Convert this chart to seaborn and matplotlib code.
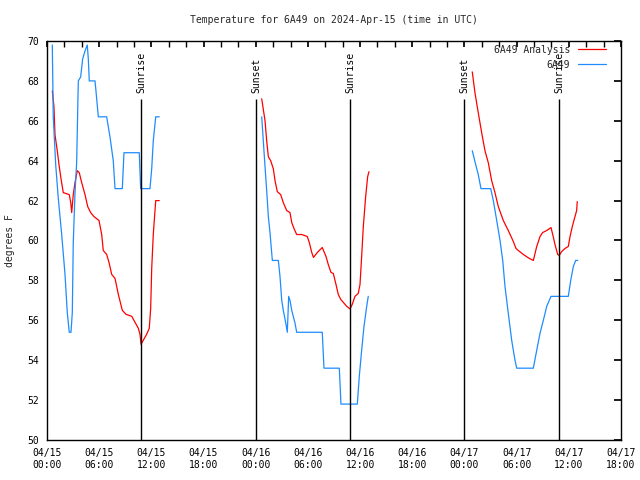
import pandas as pd
import matplotlib
matplotlib.use('Agg')
import matplotlib.pyplot as plt
import matplotlib.dates as mdates
from matplotlib.lines import Line2D
import seaborn as sns

# hours after 2024-04-15 00:00 UTC, temperature in degrees F
anl_d1_h = [0.61, 0.80, 0.92, 1.18, 1.38, 1.61, 1.87, 2.56, 2.73, 2.84, 3.02, 3.22, 3.48, 3.71,
            3.99, 4.37, 4.68, 5.02, 5.40, 5.98, 6.29, 6.47, 6.86, 7.13, 7.44, 7.82, 8.20, 8.66,
            9.08, 9.74, 10.12, 10.50, 10.69, 10.81, 11.07, 11.46, 11.76, 11.92, 12.04, 12.22,
            12.50, 12.91]
anl_d1_t = [67.5, 66.7, 65.3, 64.5, 63.8, 63.1, 62.4, 62.3, 61.9, 61.4, 62.3, 62.9, 63.5, 63.4,
            62.9, 62.3, 61.7, 61.4, 61.2, 61.0, 60.3, 59.5, 59.3, 58.9, 58.3, 58.1, 57.3, 56.5,
            56.3, 56.2, 55.9, 55.6, 55.3, 54.8, 55.0, 55.3, 55.6, 56.6, 58.6, 60.3,
            62.0, 62.0]

anl_d2_h = [24.69, 25.07, 25.26, 25.45, 25.72, 26.02, 26.22, 26.48, 26.87, 27.17, 27.56, 27.94,
            28.14, 28.40, 28.71, 29.29, 29.93, 30.16, 30.44, 30.64, 31.08, 31.65, 32.08, 32.34,
            32.65, 32.92, 33.20, 33.49, 33.77, 34.07, 34.46, 34.84, 35.10, 35.41, 35.79, 35.99,
            36.18, 36.37, 36.64, 36.87, 37.02]
anl_d2_t = [67.1, 66.0, 65.0, 64.2, 64.0, 63.6, 63.0, 62.45, 62.3, 61.9, 61.5, 61.4,
            60.9, 60.6, 60.3, 60.3, 60.2, 59.9, 59.4, 59.15, 59.4, 59.65, 59.2, 58.8,
            58.4, 58.35, 57.85, 57.3, 57.05, 56.9, 56.7, 56.57, 56.8, 57.2, 57.35, 57.8,
            59.2, 60.7, 62.2, 63.2, 63.45]

anl_d3_h = [48.90, 49.21, 49.59, 49.98, 50.36, 50.74, 51.13, 51.51, 51.89, 52.47, 53.04, 53.62,
            53.93, 54.19, 54.77, 55.46, 55.92, 56.31, 56.69, 56.99, 57.46, 57.95, 58.15, 58.41,
            58.72, 58.90, 59.18, 59.56, 59.94, 60.14, 60.40, 60.71, 60.90, 60.97]
anl_d3_t = [68.45, 67.4, 66.4, 65.4, 64.5, 63.9, 63.0, 62.4, 61.7, 61.0, 60.5, 59.95,
            59.6, 59.5, 59.3, 59.1, 59.0, 59.7, 60.2, 60.4, 60.5, 60.65, 60.3, 59.8,
            59.3, 59.25, 59.45, 59.6, 59.7, 60.2, 60.7, 61.2, 61.5, 61.95]

obs_d1_h = [0.61, 0.72, 1.00, 1.30, 1.69, 2.07, 2.33, 2.56, 2.76, 2.91, 3.02, 3.22, 3.41, 3.60,
            3.87, 4.10, 4.37, 4.63, 4.75, 4.86, 5.52, 5.63, 5.90, 6.86, 7.24, 7.62, 7.82, 8.66,
            8.85, 10.61, 10.77, 11.84, 12.04, 12.22, 12.50, 12.91]
obs_d1_t = [69.8, 66.2, 63.8, 62.1, 60.3, 58.3, 56.4, 55.4, 55.4, 56.4, 59.9, 62.4, 63.9, 68.0,
            68.2, 69.1, 69.5, 69.8, 69.1, 68.0, 68.0, 67.5, 66.2, 66.2, 65.2, 64.0, 62.6, 62.6,
            64.4, 64.4, 62.6, 62.6, 63.6, 65.0, 66.2, 66.2]

obs_d2_h = [24.69, 24.87, 25.07, 25.26, 25.45, 25.64, 25.91, 26.60, 26.79, 26.99, 27.17, 27.48,
            27.63, 27.79, 27.94, 28.14, 28.52, 28.71, 31.65, 31.85, 33.61, 33.80, 35.68, 35.91,
            36.18, 36.45, 36.76, 36.94]
obs_d2_t = [66.2, 65.0, 63.7, 62.5, 61.2, 60.4, 59.0, 59.0, 58.2, 57.0, 56.5, 55.8,
            55.4, 57.2, 57.0, 56.5, 55.85, 55.4, 55.4, 53.6, 53.6, 51.8, 51.8, 53.2,
            54.5, 55.7, 56.7, 57.2]

obs_d3_h = [48.90, 49.21, 49.59, 49.90, 51.02, 51.32, 51.71, 52.09, 52.40, 52.66, 53.04, 53.43,
            53.81, 54.01, 55.92, 56.31, 56.69, 57.07, 57.46, 57.95, 59.94, 60.22, 60.52, 60.79,
            61.02]
obs_d3_t = [64.5, 63.95, 63.3, 62.6, 62.6, 62.0, 61.0, 60.0, 59.0, 57.7, 56.35, 55.0,
            54.0, 53.6, 53.6, 54.5, 55.35, 56.0, 56.7, 57.2, 57.2, 58.0, 58.7, 59.0,
            59.0]

sun_hours = [10.81, 24.03, 34.83, 47.97, 58.88]
sun_labels = ['Sunrise', 'Sunset', 'Sunrise', 'Sunset', 'Sunrise']

start = pd.Timestamp('2024-04-15 00:00')

pieces = [('6A49 Analysis', 1, anl_d1_h, anl_d1_t),
          ('6A49 Analysis', 2, anl_d2_h, anl_d2_t),
          ('6A49 Analysis', 3, anl_d3_h, anl_d3_t),
          ('6A49', 1, obs_d1_h, obs_d1_t),
          ('6A49', 2, obs_d2_h, obs_d2_t),
          ('6A49', 3, obs_d3_h, obs_d3_t)]
frames = []
for name, day, hrs, tmps in pieces:
    frames.append(pd.DataFrame({'time': start + pd.to_timedelta(hrs, unit='h'),
                                'temp': tmps,
                                'series': name,
                                'seg': '%s_%d' % (name, day)}))
df = pd.concat(frames, ignore_index=True)

colors = {'6A49 Analysis': '#ff0000', '6A49': '#1e8cff'}

sns.set_theme(style='white')
plt.rcParams['font.family'] = ['DejaVu Sans Mono']
plt.rcParams['font.size'] = 7

fig = plt.figure(figsize=(6.4, 4.8), dpi=100)
ax = fig.add_axes([47/640, 40/480, 574/640, 399/480])

sns.lineplot(data=df, x='time', y='temp', hue='series', units='seg', estimator=None,
             hue_order=['6A49 Analysis', '6A49'], palette=colors, sort=False,
             linewidth=0.9, legend=False, ax=ax)

# sunrise / sunset markers
sun_times = start + pd.to_timedelta(sun_hours, unit='h')
ax.vlines(sun_times, 50, 67.1, color='black', linewidth=1)
for t, lab in zip(sun_times, sun_labels):
    ax.text(t, 67.4, lab, rotation=90, ha='center', va='bottom', fontsize=7, color='black')

ax.set_xlim(start, start + pd.Timedelta(hours=66))
ax.set_ylim(50, 70)
ax.set_yticks(range(50, 71, 2))
ax.xaxis.set_major_locator(mdates.HourLocator(byhour=[0, 6, 12, 18]))
ax.xaxis.set_major_formatter(mdates.DateFormatter('%m/%d\n%H:%M'))
ax.xaxis.set_minor_locator(mdates.HourLocator(byhour=range(0, 24, 2)))
ax.tick_params(which='both', direction='in', top=True, right=True, color='black',
               labelsize=7, labelcolor='black')
ax.tick_params(axis='x', which='both', length=4, pad=6)
ax.tick_params(axis='y', length=5, pad=6)
for s in ax.spines.values():
    s.set_color('black')
    s.set_linewidth(1)

ax.set_title('Temperature for 6A49 on 2024-Apr-15 (time in UTC)', fontsize=7, pad=13)
ax.set_xlabel('')
ax.set_ylabel('degrees F', fontsize=7)
ax.yaxis.set_label_coords(-0.056, 0.5)

handles = [Line2D([], [], color=colors['6A49 Analysis'], linewidth=0.9),
           Line2D([], [], color=colors['6A49'], linewidth=0.9)]
ax.legend(handles, ['6A49 Analysis', '6A49'], loc='upper right', bbox_to_anchor=(0.981, 1.0),
          frameon=False, markerfirst=False, fontsize=7, handlelength=2.9,
          labelspacing=0.48, borderaxespad=0, handletextpad=0.8)

fig.savefig('out.png', dpi=100)
